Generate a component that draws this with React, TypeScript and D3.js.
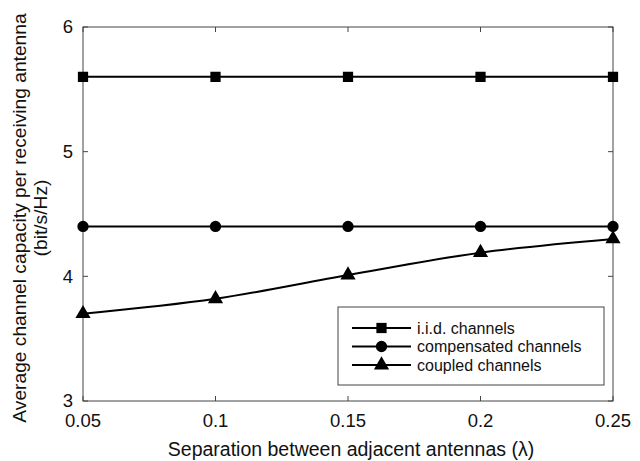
import { useEffect, useRef } from 'react';
import * as d3 from 'd3';

const separations = [0.05, 0.1, 0.15, 0.2, 0.25];
const iidValues = [5.6, 5.6, 5.6, 5.6, 5.6];
const compensatedValues = [4.4, 4.4, 4.4, 4.4, 4.4];
const coupledValues = [3.7, 3.82, 4.01, 4.19, 4.3];
const xTicks = [0.05, 0.1, 0.15, 0.2, 0.25];
const yTicks = [3, 4, 5, 6];
const seriesNames = ['i.i.d. channels', 'compensated channels', 'coupled channels'];

const W = 640;
const H = 461;
const margin = { top: 27, right: 27, bottom: 60, left: 83 };
const FONT = '"Liberation Sans", Arial, sans-serif';

export default function App() {
  const svgRef = useRef<SVGSVGElement | null>(null);

  useEffect(() => {
    if (!svgRef.current) return;
    const svg = d3.select(svgRef.current);
    svg.selectAll('*').remove();

    const width = W - margin.left - margin.right;
    const height = H - margin.top - margin.bottom;
    const g = svg.append('g').attr('transform', `translate(${margin.left},${margin.top})`);

    const x = d3.scaleLinear().domain([0.05, 0.25]).range([0, width]);
    const y = d3.scaleLinear().domain([3, 6]).range([height, 0]);

    // frame
    g.append('rect')
      .attr('width', width).attr('height', height)
      .attr('fill', 'none').attr('stroke', '#444').attr('stroke-width', 1);

    const tickLen = 5;
    const tg = g.append('g').attr('stroke', '#444').attr('stroke-width', 1);
    xTicks.forEach(t => {
      tg.append('line').attr('x1', x(t)).attr('x2', x(t)).attr('y1', height).attr('y2', height - tickLen);
      tg.append('line').attr('x1', x(t)).attr('x2', x(t)).attr('y1', 0).attr('y2', tickLen);
    });
    yTicks.forEach(t => {
      tg.append('line').attr('x1', 0).attr('x2', tickLen).attr('y1', y(t)).attr('y2', y(t));
      tg.append('line').attr('x1', width).attr('x2', width - tickLen).attr('y1', y(t)).attr('y2', y(t));
    });

    g.selectAll('.xt').data(xTicks).join('text')
      .attr('x', d => x(d)).attr('y', height + 26)
      .attr('text-anchor', 'middle')
      .attr('font-family', FONT).attr('font-size', 18.5).attr('fill', '#111')
      .text(d => String(d));

    g.selectAll('.yt').data(yTicks).join('text')
      .attr('x', -10).attr('y', d => y(d)).attr('dy', '0.35em')
      .attr('text-anchor', 'end')
      .attr('font-family', FONT).attr('font-size', 18.5).attr('fill', '#111')
      .text(d => String(d));

    // axis labels
    svg.append('text')
      .attr('x', 351).attr('y', 456)
      .attr('text-anchor', 'middle')
      .attr('font-family', FONT).attr('font-size', 19.5).attr('fill', '#111')
      .text('Separation between adjacent antennas (λ)');

    const yl = svg.append('text')
      .attr('transform', `translate(26,${margin.top + height / 2 + 4}) rotate(-90)`)
      .attr('text-anchor', 'middle')
      .attr('font-family', FONT).attr('font-size', 19.2).attr('fill', '#111');
    yl.append('tspan').attr('x', 0).attr('y', 0).text('Average channel capacity per receiving antenna');
    yl.append('tspan').attr('x', 0).attr('y', 21).text('(bit/s/Hz)');

    const line = d3.line<[number, number]>()
      .x(d => x(d[0])).y(d => y(d[1]))
      .curve(d3.curveMonotoneX);

    const series = [iidValues, compensatedValues, coupledValues];
    const symbols = [d3.symbolSquare, d3.symbolCircle, d3.symbolTriangle];
    const sizes = [105, 100, 100];

    series.forEach((vals, i) => {
      const pts = separations.map((s, j) => [s, vals[j]] as [number, number]);
      g.append('path').attr('d', line(pts) || '')
        .attr('fill', 'none').attr('stroke', '#000').attr('stroke-width', 2);
      g.selectAll(`.m${i}`).data(pts).join('path')
        .attr('transform', d => `translate(${x(d[0])},${y(d[1])})`)
        .attr('d', d3.symbol().type(symbols[i]).size(sizes[i])() || '')
        .attr('fill', '#000');
    });

    // legend
    const lx = 338 - margin.left;
    const ly = 307 - margin.top;
    const lg = g.append('g').attr('transform', `translate(${lx},${ly})`);
    lg.append('rect').attr('width', 266).attr('height', 78)
      .attr('fill', '#fff').attr('stroke', '#444').attr('stroke-width', 1);
    seriesNames.forEach((name, i) => {
      const yy = 21 + i * 18.5;
      lg.append('line').attr('x1', 14).attr('x2', 73).attr('y1', yy).attr('y2', yy)
        .attr('stroke', '#000').attr('stroke-width', 2);
      lg.append('path').attr('transform', `translate(43.5,${yy})`)
        .attr('d', d3.symbol().type(symbols[i]).size(sizes[i])() || '')
        .attr('fill', '#000');
      lg.append('text').attr('x', 79).attr('y', yy).attr('dy', '0.35em')
        .attr('font-family', FONT).attr('font-size', 16).attr('fill', '#111')
        .text(name);
    });
  }, []);

  return (
    <svg ref={svgRef} width={W} height={H} style={{ position: 'absolute', left: 0, top: 0, background: '#fff' }} />
  );
}
